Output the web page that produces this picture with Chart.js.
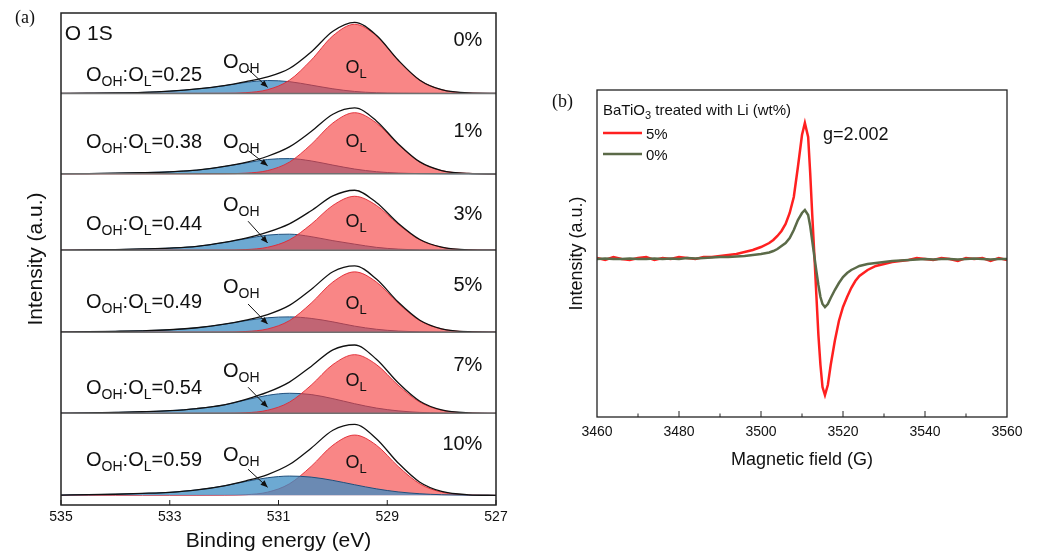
<!DOCTYPE html>
<html>
<head>
<meta charset="utf-8">
<script src="https://cdn.jsdelivr.net/npm/chart.js@4.4.0/dist/chart.umd.min.js"></script>
<style>
  body { margin: 0; background: #fff; }
  #wrap { position: relative; width: 1037px; height: 556px; background: #fff; }
  #xps { position: absolute; left: 0; top: 0; }
  #epr { position: absolute; left: 540px; top: 0; }
</style>
</head>
<body>
<div id="wrap">
  <canvas id="xps" width="540" height="556"></canvas>
  <canvas id="epr" width="497" height="556"></canvas>
</div>
<script>
const FONT = "'Liberation Sans', Arial, sans-serif";
const SERIF = "'Liberation Serif', 'Times New Roman', serif";

// =====================================================
// (a) O 1s XPS data, binding energy in eV
const energy = [535, 534.5, 534, 533.5, 533, 532.5, 532, 531.6, 531.2, 530.8, 530.4, 530, 529.6, 529.2, 528.8, 528.4, 528, 527.5, 527];

const liContent = ['0%', '1%', '3%', '5%', '7%', '10%'];
const ohRatio = ['0.25', '0.38', '0.44', '0.49', '0.54', '0.59'];

// lattice oxygen peak (O_L)
const ol0  = [0, 0, 0, 0, 0, 0, 0.001, 0.009, 0.046, 0.164, 0.413, 0.716, 0.86, 0.716, 0.413, 0.164, 0.046, 0.005, 0];
const ol1  = [0, 0, 0, 0, 0, 0, 0.001, 0.008, 0.040, 0.145, 0.365, 0.632, 0.76, 0.632, 0.365, 0.145, 0.040, 0.005, 0];
const ol3  = [0, 0, 0, 0, 0, 0, 0.001, 0.007, 0.036, 0.128, 0.322, 0.557, 0.67, 0.557, 0.322, 0.128, 0.036, 0.004, 0];
const ol5  = [0, 0, 0, 0, 0, 0, 0.001, 0.008, 0.040, 0.143, 0.360, 0.624, 0.75, 0.624, 0.360, 0.143, 0.040, 0.005, 0];
const ol7  = [0, 0, 0, 0, 0, 0, 0.001, 0.007, 0.039, 0.139, 0.350, 0.607, 0.73, 0.607, 0.350, 0.139, 0.039, 0.005, 0];
const ol10 = [0, 0, 0, 0, 0, 0, 0.001, 0.008, 0.040, 0.143, 0.360, 0.624, 0.75, 0.624, 0.360, 0.143, 0.040, 0.005, 0];

// hydroxyl oxygen peak (O_OH)
const oh0  = [0, 0.002, 0.005, 0.012, 0.028, 0.055, 0.095, 0.137, 0.16, 0.146, 0.103, 0.057, 0.024, 0.008, 0.002, 0.0004, 0, 0, 0];
const oh1  = [0.001, 0.003, 0.007, 0.014, 0.025, 0.045, 0.09, 0.135, 0.178, 0.189, 0.16, 0.108, 0.059, 0.026, 0.009, 0.0025, 0.0005, 0, 0];
const oh3  = [0.001, 0.003, 0.007, 0.015, 0.026, 0.047, 0.095, 0.142, 0.187, 0.199, 0.168, 0.118, 0.075, 0.035, 0.013, 0.004, 0.001, 0, 0];
const oh5  = [0.002, 0.005, 0.01, 0.017, 0.03, 0.055, 0.098, 0.143, 0.179, 0.19, 0.171, 0.128, 0.075, 0.036, 0.014, 0.005, 0.002, 0, 0];
const oh7  = [0.003, 0.006, 0.012, 0.02, 0.033, 0.06, 0.105, 0.167, 0.224, 0.25, 0.234, 0.183, 0.12, 0.066, 0.031, 0.012, 0.004, 0.001, 0];
const oh10 = [0.004, 0.008, 0.014, 0.024, 0.038, 0.068, 0.118, 0.173, 0.219, 0.24, 0.227, 0.186, 0.132, 0.081, 0.043, 0.02, 0.008, 0.002, 0.0005];

const olSeries = [ol0, ol1, ol3, ol5, ol7, ol10];
const ohSeries = [oh0, oh1, oh3, oh5, oh7, oh10];

// baseline of each stacked spectrum (top to bottom)
const baselines = [5, 4, 3.05, 2.03, 1.02, 0];
const blueOnTop = [false, false, false, false, false, true];

// =====================================================
// (b) EPR data
const fieldG = [3460, 3462, 3464, 3466, 3468, 3470, 3472, 3474, 3476, 3478, 3480, 3482, 3484, 3486, 3488, 3490, 3492, 3494, 3496, 3498, 3500,
  3502, 3503, 3504, 3505, 3506, 3507, 3508, 3509, 3510,
  3510.7, 3511.5, 3512, 3512.5, 3513, 3513.5, 3514, 3514.5, 3515, 3515.6,
  3516.3, 3517, 3518, 3519, 3520, 3521, 3522, 3523, 3524,
  3526, 3528, 3530, 3532, 3534, 3536, 3538, 3540, 3542, 3544, 3546, 3548, 3550, 3552, 3554, 3556, 3558, 3560];
const epr5 = [0.01, -0.01, 0.02, 0.0, -0.01, 0.01, 0.02, -0.01, 0.01, 0.0, 0.02, 0.01, 0.0, 0.02, 0.02, 0.03, 0.04, 0.05, 0.07, 0.09, 0.12,
  0.16, 0.19, 0.23, 0.28, 0.35, 0.46, 0.62, 0.92, 1.24,
  1.36, 1.22, 0.86, 0.44, 0.05, -0.36, -0.76, -1.06, -1.28, -1.36,
  -1.26, -1.06, -0.82, -0.62, -0.48, -0.38, -0.29, -0.22, -0.17,
  -0.11, -0.07, -0.05, -0.03, -0.02, -0.01, 0.01, 0.0, -0.01, 0.01, 0.0, -0.02, 0.01, 0.0, 0.01, -0.02, 0.01, -0.01];
const epr0 = [0.0, 0.005, 0.0, 0.0, 0.005, 0.0, 0.0, 0.005, 0.0, 0.005, 0.0, 0.01, 0.005, 0.01, 0.015, 0.02, 0.02, 0.025, 0.03, 0.04, 0.05,
  0.065, 0.08, 0.10, 0.13, 0.16, 0.21, 0.29, 0.39, 0.46,
  0.49, 0.44, 0.33, 0.18, 0.03, -0.12, -0.26, -0.38, -0.45, -0.48,
  -0.45, -0.39, -0.31, -0.24, -0.18, -0.14, -0.11, -0.09, -0.07,
  -0.05, -0.04, -0.03, -0.02, -0.015, -0.01, -0.005, 0.0, -0.005, 0.0, 0.0, -0.005, 0.0, 0.005, 0.0, -0.005, 0.0, 0.0];
const eprLabels = ['5%', '0%'];

// ---------------------------------------------------------------
// helpers
function drawParts(ctx, x, y, parts, align) {
  // parts: [text, fontSize, baselineShift]
  let total = 0;
  parts.forEach(p => { ctx.font = p[1] + 'px ' + FONT; total += ctx.measureText(p[0]).width; });
  if (align === 'right') x -= total;
  ctx.textAlign = 'left';
  ctx.textBaseline = 'alphabetic';
  parts.forEach(p => {
    ctx.font = p[1] + 'px ' + FONT;
    ctx.fillText(p[0], x, y + (p[2] || 0));
    x += ctx.measureText(p[0]).width;
  });
}

function arrow(ctx, x1, y1, x2, y2) {
  ctx.beginPath();
  ctx.moveTo(x1, y1);
  ctx.lineTo(x2, y2);
  ctx.stroke();
  const ang = Math.atan2(y2 - y1, x2 - x1);
  const L = 7, W = 3;
  ctx.beginPath();
  ctx.moveTo(x2, y2);
  ctx.lineTo(x2 - L * Math.cos(ang) + W * Math.sin(ang), y2 - L * Math.sin(ang) - W * Math.cos(ang));
  ctx.lineTo(x2 - L * Math.cos(ang) - W * Math.sin(ang), y2 - L * Math.sin(ang) + W * Math.cos(ang));
  ctx.closePath();
  ctx.fill();
}

// ===================== (a) XPS chart ============================
// label places, in panel units above each baseline
const ohTextY   = [0.40, 0.41, 0.575, 0.575, 0.54, 0.51];
const arrowY0   = [0.30, 0.29, 0.36, 0.35, 0.325, 0.325];
const arrowY1   = [0.075, 0.10, 0.09, 0.10, 0.075, 0.10];
const olTextY   = [0.325, 0.41, 0.36, 0.36, 0.41, 0.41];
const ratioY    = [0.24, 0.41, 0.34, 0.39, 0.33, 0.45];
const pctY      = [0.675, 0.54, 0.46, 0.6, 0.61, 0.65];

const xpsDecor = {
  id: 'xpsDecor',
  afterDatasetsDraw(chart) {
    const { ctx, chartArea: a, scales: { x, y } } = chart;
    ctx.save();
    // separators between spectra
    ctx.strokeStyle = '#707070';
    ctx.lineWidth = 1.5;
    for (let i = 0; i < 5; i++) {
      const py = y.getPixelForValue(baselines[i]);
      ctx.beginPath(); ctx.moveTo(a.left, py); ctx.lineTo(a.right, py); ctx.stroke();
    }
    // frame
    ctx.strokeStyle = '#222';
    ctx.lineWidth = 1.5;
    ctx.strokeRect(a.left, a.top, a.right - a.left, a.bottom - a.top);
    // inner ticks
    ctx.lineWidth = 1;
    for (let v = 527; v <= 535; v += 2) {
      const px = x.getPixelForValue(v);
      ctx.beginPath(); ctx.moveTo(px, a.bottom); ctx.lineTo(px, a.bottom - 5); ctx.stroke();
    }
    // texts
    ctx.fillStyle = '#111';
    ctx.strokeStyle = '#111';
    const P = (e, base, rel) => [x.getPixelForValue(e), y.getPixelForValue(base + rel)];
    for (let i = 0; i < 6; i++) {
      const b = baselines[i];
      let p = P(534.54, b, ratioY[i]);
      drawParts(ctx, p[0], p[1] + 7, [['O', 20], ['OH', 14, 5], [':', 20], ['O', 20], ['L', 14, 5], ['=' + ohRatio[i], 20]]);
      p = P(527.25, b, pctY[i]);
      drawParts(ctx, p[0], p[1] + 7, [[liContent[i], 20]], 'right');
      p = P(532.02, b, ohTextY[i]);
      drawParts(ctx, p[0], p[1] + 7, [['O', 20], ['OH', 14, 5]]);
      p = P(529.77, b, olTextY[i]);
      drawParts(ctx, p[0], p[1] + 6, [['O', 18], ['L', 13, 5]]);
      const s = P(531.56, b, arrowY0[i]);
      const t = P(531.2, b, arrowY1[i]);
      ctx.lineWidth = 1;
      arrow(ctx, s[0], s[1], t[0], t[1]);
    }
    const p = P(534.93, baselines[0], 0.75);
    drawParts(ctx, p[0], p[1] + 7, [['O 1S', 21]]);
    // panel letter
    ctx.font = '18px ' + SERIF;
    ctx.textBaseline = 'middle';
    ctx.fillText('(a)', 15, 18);
    ctx.restore();
  }
};

const xpsDatasets = [];
liContent.forEach((name, i) => {
  const off = baselines[i];
  const ol = olSeries[i];
  const oh = ohSeries[i];
  xpsDatasets.push({
    label: 'envelope ' + name,
    data: energy.map((e, j) => ({ x: e, y: off + ol[j] + oh[j] })),
    borderColor: '#111',
    borderWidth: 1.3,
    fill: false,
    order: 0
  });
  xpsDatasets.push({
    label: 'O_L ' + name,
    data: energy.map((e, j) => ({ x: e, y: off + ol[j] })),
    borderColor: 'rgba(225,40,50,0.9)',
    backgroundColor: 'rgba(245,60,60,0.62)',
    borderWidth: 1,
    fill: { value: off },
    order: blueOnTop[i] ? 2 : 1
  });
  xpsDatasets.push({
    label: 'O_OH ' + name,
    data: energy.map((e, j) => ({ x: e, y: off + oh[j] })),
    borderColor: '#1f4f7c',
    backgroundColor: 'rgba(60,140,195,0.75)',
    borderWidth: 1,
    fill: { value: off },
    order: blueOnTop[i] ? 1 : 2
  });
});

new Chart(document.getElementById('xps').getContext('2d'), {
  type: 'line',
  data: { datasets: xpsDatasets },
  plugins: [xpsDecor],
  options: {
    responsive: false,
    animation: false,
    layout: { padding: { top: 13, right: 44, left: 0, bottom: 0 } },
    elements: { point: { radius: 0 }, line: { cubicInterpolationMode: 'monotone' } },
    plugins: { legend: { display: false }, tooltip: { enabled: false } },
    scales: {
      x: {
        type: 'linear',
        reverse: true,
        min: 527,
        max: 535,
        grid: { display: false, drawTicks: false },
        border: { display: false },
        ticks: { stepSize: 2, padding: 4, color: '#111', font: { family: FONT, size: 14 } },
        title: { display: true, text: 'Binding energy (eV)', color: '#111', font: { family: FONT, size: 21 }, padding: { top: 0, bottom: 2 } },
        afterFit: s => { s.height = 51; }
      },
      y: {
        min: -0.12,
        max: 6,
        grid: { display: false, drawTicks: false },
        border: { display: false },
        ticks: { display: false },
        title: { display: true, text: 'Intensity (a.u.)', color: '#111', font: { family: FONT, size: 21 }, padding: { top: 24, bottom: 0 } },
        afterFit: s => { s.width = 61; }
      }
    }
  }
});

// ===================== (b) EPR chart ============================
const eprDecor = {
  id: 'eprDecor',
  afterDatasetsDraw(chart) {
    const { ctx, chartArea: a, scales: { x, y } } = chart;
    ctx.save();
    ctx.strokeStyle = '#222';
    ctx.lineWidth = 1.3;
    ctx.strokeRect(a.left, a.top, a.right - a.left, a.bottom - a.top);
    ctx.lineWidth = 1;
    for (let v = 3470; v < 3560; v += 10) {
      const px = x.getPixelForValue(v);
      const len = (v % 20 === 0) ? 6 : 3.5;
      ctx.beginPath(); ctx.moveTo(px, a.bottom); ctx.lineTo(px, a.bottom - len); ctx.stroke();
    }
    // legend
    ctx.fillStyle = '#111';
    drawParts(ctx, 63, 115, [['BaTiO', 15], ['3', 11, 4], [' treated with Li (wt%)', 15]]);
    const colors = ['#ff2020', '#5b6a48'];
    [133, 154].forEach((ly, k) => {
      ctx.strokeStyle = colors[k];
      ctx.lineWidth = 2.5;
      ctx.beginPath(); ctx.moveTo(63, ly); ctx.lineTo(102, ly); ctx.stroke();
      drawParts(ctx, 106, ly + 5.5, [[eprLabels[k], 15]]);
    });
    const gx = x.getPixelForValue(3515.1);
    const gy = y.getPixelForValue(1.26);
    drawParts(ctx, gx, gy + 6.5, [['g=2.002', 18]]);
    ctx.font = '18px ' + SERIF;
    ctx.textBaseline = 'middle';
    ctx.fillText('(b)', 12, 102);
    ctx.restore();
  }
};

new Chart(document.getElementById('epr').getContext('2d'), {
  type: 'line',
  data: {
    datasets: [
      {
        label: eprLabels[1],
        data: fieldG.map((g, j) => ({ x: g, y: epr0[j] })),
        borderColor: '#5b6a48',
        borderWidth: 2.5,
        order: 0
      },
      {
        label: eprLabels[0],
        data: fieldG.map((g, j) => ({ x: g, y: epr5[j] })),
        borderColor: '#ff2020',
        borderWidth: 2.5,
        order: 1
      }
    ]
  },
  plugins: [eprDecor],
  options: {
    responsive: false,
    animation: false,
    layout: { padding: { top: 90, right: 30, left: 0, bottom: 79 } },
    elements: { point: { radius: 0 }, line: { tension: 0 } },
    plugins: { legend: { display: false }, tooltip: { enabled: false } },
    scales: {
      x: {
        type: 'linear',
        min: 3460,
        max: 3560,
        grid: { display: false, drawTicks: false },
        border: { display: false },
        ticks: { stepSize: 20, padding: 7, color: '#111', font: { family: FONT, size: 14 }, callback: v => String(v) },
        title: { display: true, text: 'Magnetic field (G)', color: '#111', font: { family: FONT, size: 18 }, padding: { top: 0, bottom: 6 } },
        afterFit: s => { s.height = 60; }
      },
      y: {
        min: -1.58,
        max: 1.69,
        grid: { display: false, drawTicks: false },
        border: { display: false },
        ticks: { display: false },
        title: { display: true, text: 'Intensity (a.u.)', color: '#111', font: { family: FONT, size: 18 }, padding: { top: 26, bottom: 0 } },
        afterFit: s => { s.width = 57; }
      }
    }
  }
});
</script>
</body>
</html>
